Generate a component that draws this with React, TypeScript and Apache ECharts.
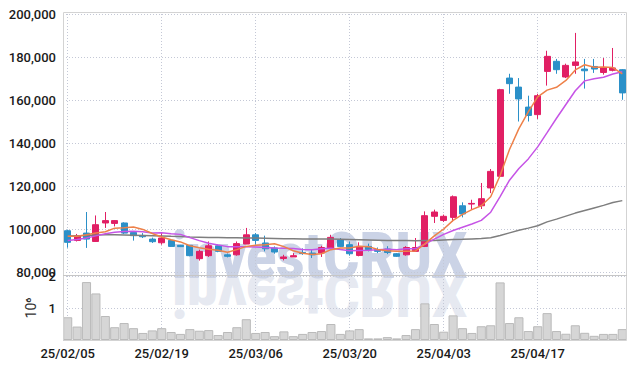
import React, { useEffect, useRef } from 'react';
import * as echarts from 'echarts';

const dates = [
  '25/02/05','25/02/06','25/02/07','25/02/10','25/02/11','25/02/12','25/02/13','25/02/14','25/02/17','25/02/18',
  '25/02/19','25/02/20','25/02/21','25/02/24','25/02/25','25/02/26','25/02/27','25/02/28','25/03/04','25/03/05',
  '25/03/06','25/03/07','25/03/10','25/03/11','25/03/12','25/03/13','25/03/14','25/03/17','25/03/18','25/03/19',
  '25/03/20','25/03/21','25/03/24','25/03/25','25/03/26','25/03/27','25/03/28','25/03/31','25/04/01','25/04/02',
  '25/04/03','25/04/04','25/04/07','25/04/08','25/04/09','25/04/10','25/04/11','25/04/14','25/04/15','25/04/16',
  '25/04/17','25/04/18','25/04/21','25/04/22','25/04/23','25/04/24','25/04/25','25/04/28','25/04/29','25/04/30',
];

const openP = [
  99200,94700,98100,94200,102800,102600,102800,98400,97000,95300,
  93600,94700,92400,92400,86200,87600,92200,88000,88000,93000,
  97300,93500,91200,86300,87000,89100,88800,88800,91200,95000,
  92700,87700,91900,90400,90700,88500,88000,89600,91900,105900,
  104000,105400,110800,111600,110800,119100,124500,170200,166000,156700,
  153200,173300,178000,170700,176100,174400,175600,172800,173800,174100,
];
const closeP = [
  93800,96900,95300,102000,103900,103900,98100,96900,96400,94100,
  95800,91900,91800,87600,89600,92200,89600,87300,93200,97300,
  94700,90800,89300,87000,87600,88600,88000,91400,96100,91900,
  88500,91900,90400,89600,89100,87300,91400,91400,106200,107900,
  105900,115000,107000,111900,114100,126800,164800,167600,160500,152800,
  162000,180300,174100,176100,177700,173600,174400,174900,174900,163300,
];
const lowP = [
  91300,94200,91200,94000,100500,101200,97700,94600,95800,93500,
  92700,91700,91600,87300,85300,87000,89200,86800,87600,93000,
  92700,89600,88500,85400,87000,88000,86500,87000,90400,91600,
  87600,87300,89600,88800,88300,87000,87600,89600,91600,102800,
  103300,103500,105400,109000,109300,116700,124000,162900,150000,150000,
  151200,166700,172200,170200,172200,165300,172600,171800,173300,160100,
];
const highP = [
  99700,97700,107900,106300,107900,104100,103100,98700,98100,96000,
  98600,94800,92600,92600,90400,94200,92800,88600,94200,100500,
  98100,96900,91900,88000,88800,91000,90400,92200,97300,95800,
  94200,93800,93200,91400,92000,88800,92000,95800,108200,109000,
  106700,115600,112400,113600,121400,127900,165200,172200,170200,162000,
  162900,182900,179100,176900,191200,179100,179100,179500,184200,174400,
];

const ma5 = [
  96600,96600,97300,98100,98700,100400,100600,100900,99800,97900,
  96300,95000,94000,92200,91300,90600,90100,89200,90400,91900,
  92400,92700,93100,91800,89900,88700,88100,88500,90400,91200,
  91200,92000,91800,90500,89900,89600,89600,89800,93100,96800,
  100000,104000,106800,109000,110800,115000,124900,137000,146700,154500,
  161500,164600,165900,169100,174000,176400,175200,175300,175100,172200,
];
const ma10 = [
  94700,95100,95800,96800,97800,98500,98800,98900,98700,98100,
  98300,97800,97500,96000,94600,93400,92600,91800,91700,91800,
  91600,91400,91200,91100,90900,90500,90400,90800,91100,90500,
  89900,90000,90100,90400,90600,90400,90800,90800,93000,95300,
  97500,99300,100800,102300,104000,107800,115100,122700,128100,132600,
  138200,144800,151500,157900,164300,168900,169900,170600,172100,173100,
];
const ma60 = [
  96800,96900,97000,97200,97300,97300,97200,97100,97000,96900,
  96800,96600,96500,96300,96200,96100,96000,95900,95900,95800,
  95800,95700,95600,95500,95500,95400,95300,95300,95300,95200,
  95100,95000,94900,94800,94700,94600,94600,94500,94600,94700,
  94900,95100,95200,95400,95600,95900,97000,98200,99400,100400,
  101500,103300,104600,106000,107400,108600,109800,111000,112300,113200,
];
const volume = [
  710000,420000,1810000,1455000,750000,400000,530000,370000,220000,300000,
  370000,250000,190000,340000,290000,310000,155000,250000,400000,650000,
  220000,250000,120000,270000,120000,190000,250000,280000,500000,190000,
  300000,340000,50000,50000,90000,50000,155000,340000,1145000,500000,
  260000,770000,370000,220000,430000,460000,1800000,530000,710000,280000,
  430000,840000,280000,195000,460000,225000,130000,190000,190000,340000,
];

const UP = '#e11f64';
const DOWN = '#2b90c8';
const FONT = 'Roboto, "Noto Sans", "DejaVu Sans", sans-serif';
const GRID_LINE = { type: [1, 2] as any, color: '#c4c8d6', width: 1 };

export default function App() {
  const ref = useRef<HTMLDivElement>(null);
  useEffect(() => {
    document.body.style.margin = '0';
    const chart = echarts.init(ref.current!, null, { renderer: 'svg' });
    const candles = dates.map((_, i) => [openP[i], closeP[i], lowP[i], highP[i]]);
    const labelStyle = { fontFamily: FONT, fontSize: 13, fontWeight: 500, color: '#1a1a1a' };
    chart.setOption({
      animation: false,
      grid: [
        { left: 63, width: 564, top: 14, height: 258 },
        { left: 63, width: 564, top: 276, height: 64 },
      ],
      xAxis: [
        {
          type: 'category', gridIndex: 0, data: dates, boundaryGap: true,
          axisLine: { show: false }, axisTick: { show: false }, axisLabel: { show: false },
          splitLine: { show: true, interval: 9, alignWithLabel: true, lineStyle: GRID_LINE },
        },
        {
          type: 'category', gridIndex: 1, data: dates, boundaryGap: true,
          axisLine: { show: false }, axisTick: { show: false },
          axisLabel: { interval: 9, margin: 7, ...labelStyle },
          splitLine: { show: true, interval: 9, alignWithLabel: true, lineStyle: GRID_LINE },
        },
      ],
      yAxis: [
        {
          type: 'value', gridIndex: 0, min: 80000, max: 200000, interval: 20000,
          axisLine: { show: false }, axisTick: { show: false },
          axisLabel: { margin: 7, ...labelStyle, formatter: (v: number) => v.toLocaleString('en-US') },
          splitLine: { show: true, lineStyle: GRID_LINE },
        },
        {
          type: 'value', gridIndex: 1, min: 0, max: 2000000, interval: 1000000,
          name: '10⁶', nameLocation: 'middle', nameGap: 22, nameRotate: 90,
          nameTextStyle: { fontFamily: FONT, fontSize: 14, color: '#333' },
          axisLine: { show: false }, axisTick: { show: false },
          axisLabel: { margin: 7, ...labelStyle, formatter: (v: number) => (v === 0 ? '' : String(v / 1000000)) },
          splitLine: { show: true, lineStyle: GRID_LINE },
        },
      ],
      graphic: [
        {
          type: 'text', x: 172, y: 289, z: 0, scaleX: 0.86,
          style: {
            text: 'investCRUX', font: '900 64px Roboto, sans-serif',
            fill: 'rgba(186,196,222,0.75)', verticalAlign: 'bottom', textVerticalAlign: 'bottom',
          },
        },
        {
          type: 'text', x: 172, y: 264, z: 0, scaleX: 0.86, scaleY: -0.95,
          style: {
            text: 'investCRUX', font: '900 64px Roboto, sans-serif',
            fill: 'rgba(205,211,228,0.5)', verticalAlign: 'bottom', textVerticalAlign: 'bottom',
          },
        },
        {
          type: 'rect', z: 50, silent: true,
          shape: { x: 63.5, y: 12.5, width: 563, height: 328 },
          style: { fill: 'none', stroke: '#d3d3d3', lineWidth: 1 },
        },
        {
          type: 'line', z: 50, silent: true,
          shape: { x1: 63, y1: 275.5, x2: 627, y2: 275.5 },
          style: { stroke: '#c6c6c6', lineWidth: 1 },
        },
      ],
      series: [
        {
          type: 'candlestick', xAxisIndex: 0, yAxisIndex: 0, data: candles, barWidth: '70%', z: 2,
          itemStyle: { color: UP, color0: DOWN, borderColor: UP, borderColor0: DOWN, borderWidth: 1 },
        },
        { type: 'line', xAxisIndex: 0, yAxisIndex: 0, data: ma60, symbol: 'none', z: 3, lineStyle: { color: '#7e7e7e', width: 1.5 } },
        { type: 'line', xAxisIndex: 0, yAxisIndex: 0, data: ma10, symbol: 'none', z: 4, lineStyle: { color: '#c654e6', width: 1.5 } },
        { type: 'line', xAxisIndex: 0, yAxisIndex: 0, data: ma5, symbol: 'none', z: 5, lineStyle: { color: '#ee8149', width: 1.5 } },
        {
          type: 'bar', xAxisIndex: 1, yAxisIndex: 1, data: volume, barCategoryGap: '3%', z: 2,
          itemStyle: { color: '#d6d6d6', borderColor: '#bababa', borderWidth: 1 },
        },
      ],
    });
    return () => chart.dispose();
  }, []);
  return <div ref={ref} style={{ width: 636, height: 369 }} />;
}
